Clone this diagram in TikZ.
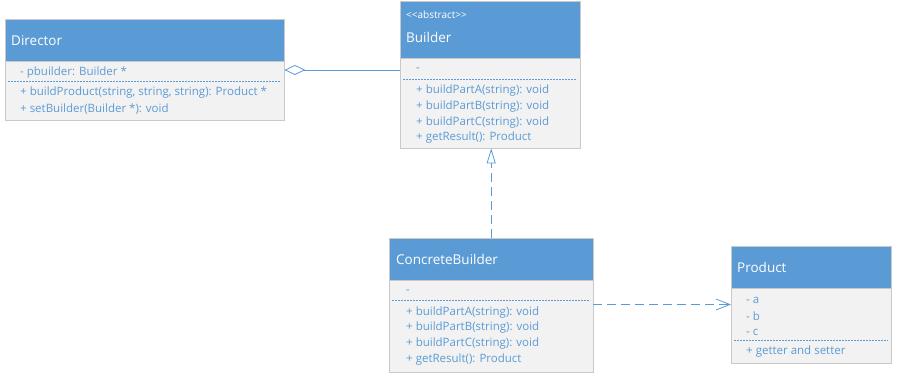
\documentclass[tikz,border=0pt]{standalone}
\usepackage{fontspec}
\setmainfont{Open Sans}
\usetikzlibrary{arrows.meta}

\definecolor{umlblue}{HTML}{5B9BD5}
\definecolor{umlfill}{HTML}{F2F2F2}
\definecolor{umledge}{HTML}{C9C9C9}

\tikzset{
  head/.style={fill=umlblue, draw=umledge, anchor=north west, inner sep=0pt},
  body/.style={fill=umlfill, draw=umledge, anchor=north west, inner sep=0pt},
  title/.style={anchor=west, inner sep=0pt, text=white, font=\fontsize{13.5}{15}\selectfont},
  stereo/.style={anchor=west, inner sep=0pt, text=white, font=\fontsize{10}{12}\selectfont},
  member/.style={anchor=west, inner sep=0pt, text=umlblue, font=\fontsize{11.5}{13}\selectfont},
  sep/.style={umlblue, dash pattern=on 2pt off 1pt, line width=1pt},
  link/.style={umlblue, line width=0.8pt},
}

\begin{document}
\begin{tikzpicture}[x=1pt, y=-1pt]
\useasboundingbox (0,0) rectangle (897,379);

% Director
\node[head, minimum width=279pt, minimum height=42pt] (dirhead) at (5,19) {};
\node[body, minimum width=279pt, minimum height=59pt] (dirbody) at (5,61) {};
\node[title] (dirname) at (11,41) {Director};
\node[member] (dirattr) at (20,72.5) {- pbuilder: Builder *};
\draw[sep] (8,82) -- (281,82);
\node[member] (dirop1) at (20,92.5) {+ buildProduct(string, string, string): Product *};
\node[member] (dirop2) at (20,109) {+ setBuilder(Builder *): void};

% Builder
\node[head, minimum width=180pt, minimum height=57pt] (bldhead) at (400,1) {};
\node[body, minimum width=180pt, minimum height=90pt] (bldbody) at (400,58) {};
\node[stereo] (bldstereo) at (406,15) {{<}{<}abstract{>}{>}};
\node[title] (bldname) at (406,37) {Builder};
\node[member] (bldattr) at (416,70) {-};
\draw[sep] (403,80) -- (577,80);
\foreach \op [count=\i] in {{+ buildPartA(string): void}, {+ buildPartB(string): void},
    {+ buildPartC(string): void}, {+ getResult(): Product}}
  \node[member] (bldop\i) at (416,75+15.7*\i) {\op};

% ConcreteBuilder
\node[head, minimum width=204pt, minimum height=42pt] (cbhead) at (389,238) {};
\node[body, minimum width=204pt, minimum height=92pt] (cbbody) at (389,280) {};
\node[title] (cbname) at (396,259) {ConcreteBuilder};
\node[member] (cbattr) at (406,292) {-};
\draw[sep] (392,301) -- (590,301);
\foreach \op [count=\i] in {{+ buildPartA(string): void}, {+ buildPartB(string): void},
    {+ buildPartC(string): void}, {+ getResult(): Product}}
  \node[member] (cbop\i) at (406,296.5+15.7*\i) {\op};

% Product
\node[head, minimum width=160pt, minimum height=42pt] (prodhead) at (731,246) {};
\node[body, minimum width=160pt, minimum height=75pt] (prodbody) at (731,288) {};
\node[title] (prodname) at (737,267) {Product};
\foreach \f [count=\i] in {a, b, c}
  \node[member] (prodattr\i) at (746,284.5+16*\i) {- \f};
\draw[sep] (734,341) -- (888,341);
\node[member] (prodop) at (746,351.5) {+ getter and setter};

% relations
\draw[link, {Diamond[open, length=21pt, width=10pt]}-]
  ([yshift=-9pt]dirbody.north east) -- ([yshift=-12pt]bldbody.north west);
\draw[link, dash pattern=on 9pt off 5pt, -{Triangle[open, length=15pt, width=9pt]}]
  (cbhead.north) -- (cbhead.north |- bldbody.south);
\draw[link, dash pattern=on 9pt off 5pt, -{Straight Barb[length=14pt, width=11pt]}]
  ([yshift=-24.5pt]cbbody.north east) -- ([yshift=-16.5pt]prodbody.north west);
\end{tikzpicture}
\end{document}
